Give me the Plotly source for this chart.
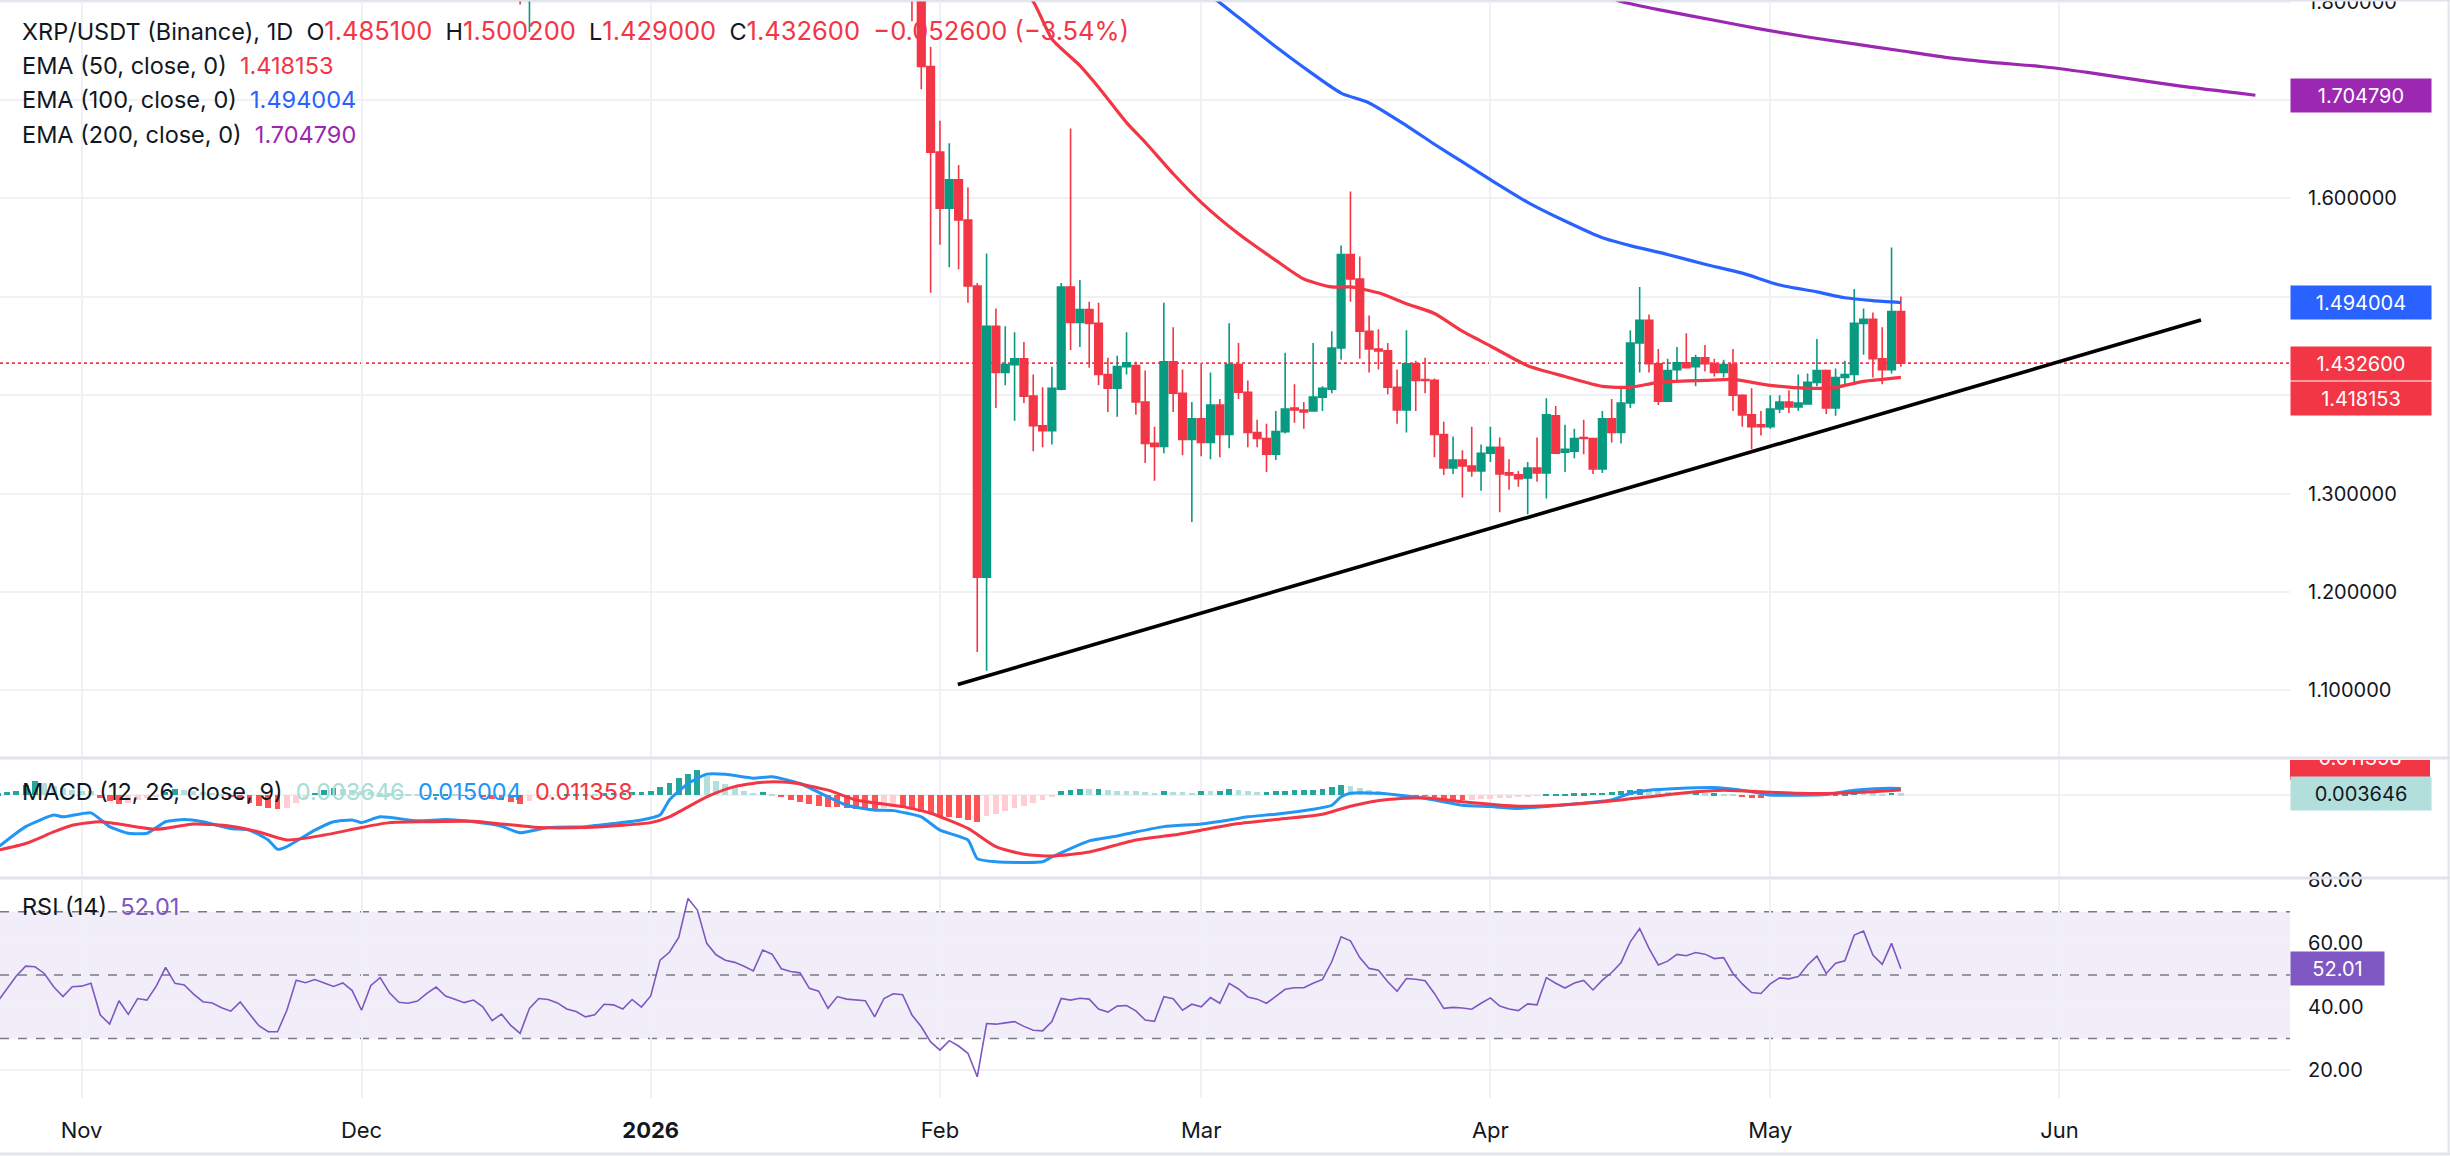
import pandas as pd
import plotly.graph_objects as go

# ---------------- DATA ----------------
# Early candles that only poke into view with their lows
early_dates = ["2025-12-18", "2025-12-19"]
early_open = [1.87, 1.82]
early_high = [1.93, 1.93]
early_low = [1.797, 1.769]
early_close = [1.83, 1.90]

candle_start = "2026-01-29"  # daily candles from here to 2026-05-15
opens = [1.88, 1.83, 1.734,
         1.647, 1.590, 1.619, 1.578, 1.511, 1.215, 1.470, 1.423, 1.431, 1.437,
         1.399, 1.369, 1.364, 1.406, 1.510, 1.474, 1.487, 1.473, 1.421, 1.407,
         1.429, 1.430, 1.393, 1.351, 1.348, 1.434, 1.402, 1.355,
         1.376, 1.352, 1.390, 1.360, 1.431, 1.403, 1.362, 1.356, 1.340, 1.363,
         1.387, 1.385, 1.384, 1.398, 1.406, 1.448, 1.543, 1.518, 1.465, 1.447,
         1.445, 1.408, 1.385, 1.432, 1.416, 1.415, 1.360, 1.326, 1.334, 1.328, 1.323,
         1.341, 1.347, 1.321, 1.319, 1.316, 1.326, 1.321, 1.379, 1.342, 1.343,
         1.357, 1.356, 1.325, 1.376, 1.362, 1.392, 1.453, 1.476, 1.432, 1.394,
         1.426, 1.433, 1.429, 1.438, 1.432, 1.423, 1.431, 1.400, 1.380, 1.370,
         1.368, 1.386, 1.393, 1.388, 1.391, 1.413, 1.425, 1.387, 1.418, 1.421,
         1.473, 1.477, 1.437, 1.426, 1.4851]
highs = [1.92, 1.845, 1.754,
         1.679, 1.656, 1.634, 1.611, 1.514, 1.544, 1.488, 1.470, 1.464, 1.454,
         1.421, 1.408, 1.429, 1.514, 1.671, 1.517, 1.495, 1.494, 1.438, 1.440,
         1.464, 1.434, 1.425, 1.368, 1.494, 1.469, 1.426, 1.393,
         1.433, 1.423, 1.396, 1.473, 1.453, 1.415, 1.375, 1.371, 1.384, 1.443,
         1.411, 1.393, 1.453, 1.409, 1.465, 1.552, 1.607, 1.541, 1.481, 1.467,
         1.453, 1.426, 1.466, 1.435, 1.438, 1.417, 1.373, 1.358, 1.344, 1.368, 1.350,
         1.368, 1.357, 1.335, 1.323, 1.332, 1.357, 1.397, 1.389, 1.370, 1.366,
         1.375, 1.356, 1.384, 1.396, 1.409, 1.466, 1.510, 1.482, 1.447, 1.437,
         1.449, 1.463, 1.441, 1.451, 1.437, 1.436, 1.447, 1.401, 1.407, 1.384,
         1.400, 1.400, 1.405, 1.421, 1.422, 1.457, 1.426, 1.427, 1.435, 1.508,
         1.488, 1.484, 1.469, 1.550, 1.5002]
lows = [1.78, 1.711, 1.504,
        1.553, 1.530, 1.528, 1.494, 1.139, 1.120, 1.387, 1.410, 1.374, 1.392,
        1.343, 1.347, 1.350, 1.405, 1.446, 1.449, 1.428, 1.410, 1.383, 1.378,
        1.421, 1.380, 1.331, 1.313, 1.341, 1.383, 1.339, 1.271,
        1.338, 1.335, 1.337, 1.346, 1.396, 1.347, 1.347, 1.322, 1.334, 1.361,
        1.372, 1.366, 1.384, 1.384, 1.402, 1.436, 1.495, 1.437, 1.423, 1.426,
        1.401, 1.371, 1.362, 1.384, 1.402, 1.337, 1.319, 1.320, 1.296, 1.317, 1.303,
        1.332, 1.281, 1.304, 1.307, 1.279, 1.312, 1.295, 1.340, 1.322, 1.336,
        1.340, 1.320, 1.321, 1.352, 1.351, 1.387, 1.423, 1.423, 1.390, 1.394,
        1.413, 1.427, 1.409, 1.424, 1.419, 1.418, 1.384, 1.368, 1.345, 1.359,
        1.366, 1.382, 1.382, 1.384, 1.391, 1.409, 1.381, 1.379, 1.411, 1.413,
        1.441, 1.418, 1.411, 1.422, 1.429]
closes = [1.83, 1.734, 1.647,
          1.590, 1.619, 1.578, 1.511, 1.215, 1.470, 1.423, 1.431, 1.437, 1.399,
          1.369, 1.364, 1.407, 1.510, 1.474, 1.487, 1.473, 1.421, 1.407, 1.429,
          1.433, 1.393, 1.351, 1.348, 1.434, 1.402, 1.355, 1.376,
          1.352, 1.390, 1.360, 1.431, 1.403, 1.362, 1.356, 1.340, 1.363, 1.386,
          1.385, 1.383, 1.398, 1.407, 1.448, 1.543, 1.518, 1.465, 1.447, 1.445,
          1.408, 1.385, 1.432, 1.415, 1.415, 1.360, 1.326, 1.334, 1.328, 1.323, 1.341,
          1.347, 1.320, 1.319, 1.315, 1.326, 1.321, 1.380, 1.341, 1.345, 1.356,
          1.356, 1.325, 1.376, 1.362, 1.392, 1.453, 1.476, 1.432, 1.394, 1.425,
          1.433, 1.428, 1.438, 1.432, 1.423, 1.431, 1.400, 1.380, 1.368, 1.368,
          1.386, 1.393, 1.388, 1.392, 1.413, 1.425, 1.387, 1.418, 1.421, 1.473,
          1.477, 1.437, 1.426, 1.4851, 1.4326]

ema50_dates = ["2026-02-08", "2026-02-11", "2026-02-13", "2026-02-16", "2026-02-18", "2026-02-21",
               "2026-02-23", "2026-02-26", "2026-03-01", "2026-03-05", "2026-03-09", "2026-03-12",
               "2026-03-15", "2026-03-17", "2026-03-20", "2026-03-23", "2026-03-26", "2026-03-29",
               "2026-04-01", "2026-04-05", "2026-04-09", "2026-04-13", "2026-04-16", "2026-04-19",
               "2026-04-24", "2026-04-27", "2026-05-01", "2026-05-05", "2026-05-08", "2026-05-11",
               "2026-05-13", "2026-05-15"]
ema50_vals = [1.830, 1.800, 1.762, 1.735, 1.713, 1.677, 1.657, 1.625, 1.596, 1.564, 1.537, 1.518,
              1.510, 1.510, 1.504, 1.493, 1.483, 1.465, 1.450, 1.430, 1.419, 1.409, 1.408, 1.413,
              1.415, 1.416, 1.410, 1.407, 1.408, 1.414, 1.416, 1.418153]

ema100_dates = ["2026-02-26", "2026-03-02", "2026-03-05", "2026-03-09", "2026-03-12", "2026-03-16",
                "2026-03-19", "2026-03-23", "2026-03-26", "2026-03-29", "2026-04-01", "2026-04-05",
                "2026-04-09", "2026-04-13", "2026-04-16", "2026-04-20", "2026-04-24", "2026-04-28",
                "2026-05-02", "2026-05-06", "2026-05-09", "2026-05-12", "2026-05-15"]
ema100_vals = [1.830, 1.806, 1.784, 1.754, 1.733, 1.707, 1.697, 1.674, 1.655, 1.637, 1.619, 1.596,
               1.577, 1.560, 1.552, 1.543, 1.533, 1.524, 1.512, 1.505, 1.499, 1.496, 1.494004]

ema200_dates = ["2026-04-13", "2026-04-15", "2026-04-20", "2026-04-25", "2026-04-30", "2026-05-05",
                "2026-05-10", "2026-05-15", "2026-05-20", "2026-05-25", "2026-05-30", "2026-06-04",
                "2026-06-09", "2026-06-14", "2026-06-22"]
ema200_vals = [1.808, 1.800, 1.790, 1.781, 1.772, 1.764, 1.757, 1.750, 1.743, 1.738, 1.734, 1.728,
               1.721, 1.714, 1.70479]

trend_dates = ["2026-02-02 22:00", "2026-06-16 04:00"]
trend_vals = [1.106, 1.4763]

# MACD (12, 26, close, 9)
macd_dates = ["2025-10-23", "2025-10-26", "2025-10-29", "2025-10-30", "2025-11-02", "2025-11-04",
              "2025-11-06", "2025-11-08", "2025-11-10", "2025-11-12", "2025-11-14", "2025-11-17",
              "2025-11-19", "2025-11-21", "2025-11-22", "2025-11-23", "2025-11-26", "2025-11-28",
              "2025-11-30", "2025-12-01", "2025-12-03", "2025-12-07", "2025-12-10", "2025-12-13",
              "2025-12-16", "2025-12-18", "2025-12-21", "2025-12-25", "2025-12-28", "2025-12-31",
              "2026-01-02", "2026-01-03", "2026-01-05", "2026-01-07", "2026-01-09", "2026-01-12",
              "2026-01-14", "2026-01-17", "2026-01-20", "2026-01-22", "2026-01-25", "2026-01-27",
              "2026-01-30", "2026-02-01", "2026-02-04", "2026-02-05", "2026-02-07", "2026-02-12",
              "2026-02-13", "2026-02-17", "2026-02-20", "2026-02-22", "2026-02-25", "2026-03-01",
              "2026-03-04", "2026-03-06", "2026-03-09", "2026-03-13", "2026-03-15", "2026-03-16",
              "2026-03-17", "2026-03-20", "2026-03-23", "2026-03-26", "2026-03-29", "2026-04-01",
              "2026-04-04", "2026-04-07", "2026-04-10", "2026-04-14", "2026-04-16", "2026-04-18",
              "2026-04-21", "2026-04-25", "2026-04-29", "2026-05-01", "2026-05-07", "2026-05-10",
              "2026-05-13", "2026-05-15"]
macd_vals = [-0.118, -0.071, -0.045, -0.049, -0.040, -0.071, -0.086, -0.086, -0.060, -0.055, -0.060,
             -0.075, -0.079, -0.101, -0.122, -0.116, -0.079, -0.060, -0.056, -0.062, -0.049, -0.058,
             -0.055, -0.060, -0.070, -0.085, -0.073, -0.071, -0.064, -0.056, -0.045, -0.011, 0.026,
             0.047, 0.047, 0.038, 0.041, 0.026, -0.004, -0.023, -0.034, -0.035, -0.049, -0.079,
             -0.101, -0.143, -0.150, -0.150, -0.139, -0.103, -0.092, -0.083, -0.071, -0.065, -0.056,
             -0.049, -0.043, -0.032, -0.023, -0.004, 0.004, 0.004, -0.002, -0.011, -0.023, -0.026,
             -0.030, -0.026, -0.020, -0.011, 0.004, 0.011, 0.015, 0.017, 0.0075, 0.000, 0.0015,
             0.011, 0.015, 0.015004]

signal_dates = ["2025-10-23", "2025-10-26", "2025-10-29", "2025-10-31", "2025-11-03", "2025-11-05",
                "2025-11-09", "2025-11-13", "2025-11-17", "2025-11-20", "2025-11-23", "2025-11-27",
                "2025-12-01", "2025-12-04", "2025-12-08", "2025-12-13", "2025-12-16", "2025-12-20",
                "2025-12-25", "2025-12-29", "2026-01-01", "2026-01-03", "2026-01-07", "2026-01-10",
                "2026-01-13", "2026-01-16", "2026-01-20", "2026-01-23", "2026-01-28", "2026-01-31",
                "2026-02-04", "2026-02-07", "2026-02-10", "2026-02-13", "2026-02-17", "2026-02-22",
                "2026-02-26", "2026-03-01", "2026-03-05", "2026-03-09", "2026-03-14", "2026-03-17",
                "2026-03-21", "2026-03-25", "2026-03-29", "2026-04-04", "2026-04-08", "2026-04-15",
                "2026-04-19", "2026-04-23", "2026-04-26", "2026-04-30", "2026-05-04", "2026-05-08",
                "2026-05-12", "2026-05-15"]
signal_vals = [-0.124, -0.109, -0.083, -0.068, -0.060, -0.065, -0.077, -0.065, -0.070, -0.083, -0.101,
               -0.090, -0.073, -0.062, -0.060, -0.059, -0.065, -0.073, -0.073, -0.068, -0.062, -0.049,
               -0.004, 0.019, 0.029, 0.028, 0.011, -0.011, -0.026, -0.041, -0.075, -0.116, -0.133,
               -0.137, -0.128, -0.101, -0.090, -0.079, -0.064, -0.055, -0.043, -0.025, -0.010, -0.006,
               -0.015, -0.025, -0.023, -0.011, -0.0015, 0.0075, 0.011, 0.0075, 0.004, 0.004, 0.0075,
               0.011358]

indicator_start = "2025-10-23"  # daily histogram / RSI values from here to 2026-05-15
hist_milli = [4, 6, 10, 22, 32, 28, 20, 16, 12, 10,
              8, -6, -14, -19, -17, -12, -7, -3, 6, 13,
              12, 9, 6, 5, 3, -4, -12, -18, -24, -29,
              -32, -28, -18, -8, 5, 12, 15, 14, 12, 9,
              6, 5, 4, 3, 2, 1, -1, 1, 2, 1,
              -1, -2, -4, -8, -12, -16, -19, -14, -6, -3,
              -1, 1, 2, 3, 2, 4, 5, 5, 6, 7,
              9, 18, 28, 38, 48, 56, 42, 32, 24, 18,
              10, 5, 6, 3, -4, -10, -16, -20, -24, -26,
              -27, -30, -32, -33, -34, -30, -26, -28, -32, -38,
              -42, -46, -50, -52, -55, -60, -48, -42, -36, -30,
              -24, -18, -12, -5, 8, 12, 14, 13, 13, 12,
              10, 9, 8, 6, 5, 9, 7, 6, 5, 9,
              8, 9, 13, 12, 8, 7, 7, 8, 10, 11,
              11, 12, 14, 17, 22, 20, 15, 11, 8, 5,
              2, 0, -1, -2, -4, -8, -10, -11, -10, -9,
              -8, -7, -6, -5, -4, -2, 2, 3, 3, 4,
              4, 5, 5, 6, 9, 12, 13, 10, 8, 7,
              6, 5, 5, 4, 4, 3, 1, -3, -6, -7,
              -5, -3, -2, -1, 1, 2, 1, 2, 4, 6,
              5, 4, 3, 5, 3.646]

rsi_vals = [41.6, 45.8, 49.7, 52.8, 52.6, 50.5, 46.3, 43.2, 46.3, 46.5,
            47.4, 37.4, 34.5, 41.9, 37.6, 42.6, 42.1, 46.5, 52.4, 47.4,
            46.9, 44.0, 41.6, 41.2, 39.7, 38.6, 41.5, 37.7, 34.0, 32.1,
            32.1, 38.9, 48.4, 47.6, 48.6, 47.5, 46.4, 47.5, 45.1, 38.9,
            46.7, 49.2, 44.4, 41.4, 41.1, 41.8, 44.2, 46.2, 43.4, 42.4,
            41.3, 42.1, 40.0, 35.6, 37.7, 34.1, 31.6, 39.5, 42.6, 42.3,
            41.2, 39.3, 38.5, 36.8, 37.5, 40.8, 40.6, 39.3, 42.3, 39.9,
            43.4, 54.7, 57.2, 61.9, 74.2, 70.5, 60.0, 56.4, 54.7, 54.0,
            52.8, 51.3, 57.9, 56.6, 52.0, 51.1, 50.7, 45.8, 44.9, 39.5,
            43.2, 42.4, 42.1, 41.9, 36.8, 42.6, 44.1, 43.8, 37.4, 33.7,
            28.9, 26.3, 29.3, 27.6, 25.3, 17.9, 34.7, 34.5, 34.9, 35.3,
            33.8, 32.6, 32.4, 35.3, 42.6, 42.1, 42.7, 42.4, 39.3, 38.3,
            40.2, 40.4, 38.7, 35.8, 35.4, 43.2, 42.5, 38.9, 40.8,
            40.0, 42.9, 41.1, 47.4, 45.6, 43.1, 42.4, 41.1, 43.2, 45.5,
            46.0, 46.0, 47.4, 48.6, 54.2, 62.1, 60.8, 55.5, 52.1, 51.5,
            47.9, 44.9, 48.9, 48.7, 48.2, 44.2, 39.5, 39.8, 39.6, 39.2,
            41.1, 42.8, 40.2, 39.3, 38.8, 40.9, 40.6, 49.2, 47.4, 45.9,
            47.5, 48.3, 45.3, 48.4, 50.8, 53.9, 60.5, 64.7, 58.4, 53.2,
            54.4, 56.5, 56.1, 57.1, 56.6, 55.2, 55.5, 50.5, 47.2, 44.5,
            44.2, 47.2, 49.1, 48.8, 49.5, 53.2, 56.0, 50.5, 53.7, 54.5,
            62.6, 63.9, 56.3, 53.4, 60.0, 52.01]

price_ticks = [1.1, 1.2, 1.3, 1.4, 1.5, 1.6, 1.7, 1.8]
# labels hidden behind the value boxes (1.4, 1.5, 1.7) are left blank
price_tick_labels = ["1.100000", "1.200000", "1.300000", "", "", "1.600000", "", "1.800000"]
rsi_ticks = [20, 40, 60, 80]
month_ticks = ["2025-11-01", "2025-12-01", "2026-01-01", "2026-02-01", "2026-03-01",
               "2026-04-01", "2026-05-01", "2026-06-01"]
month_labels = ["Nov", "Dec", "<b>2026</b>", "Feb", "Mar", "Apr", "May", "Jun"]

# ---------------- STYLE ----------------
FONT = "Inter"
TXT = "#131722"
RED = "#f23645"
GREEN = "#089981"
BLUE = "#2962ff"
PURPLE = "#9c27b0"
MACD_BLUE = "#2196f3"
RSI_PURPLE = "#7e57c2"
GRID = "#eff1f5"
SEP = "#e0e3eb"
LEG_SIZE = 23.5
AX_SIZE = 20

W, H = 2450, 1156
BOTTOM = 58
PH = H - BOTTOM
XD = 2290 / W


def py(full_y):
    return 1 - full_y / PH


price_dom = [py(757), 1.0]
macd_dom = [py(876), py(760)]
rsi_dom = [0.0, py(880)]
price_range = [1.0323, 1.8016]
macd_range = [-0.182, 0.0788]
rsi_range = [11.2, 80.0]

candle_dates = early_dates + list(pd.date_range(candle_start, periods=len(opens), freq="D").strftime("%Y-%m-%d"))
ind_dates = list(pd.date_range(indicator_start, periods=len(rsi_vals), freq="D").strftime("%Y-%m-%d"))
hist_vals = [v / 1000 for v in hist_milli]

hist_colors = []
for i, v in enumerate(hist_vals):
    prev = hist_vals[i - 1] if i > 0 else v
    if v >= 0:
        hist_colors.append("#26a69a" if v >= prev else "#b2dfdb")
    else:
        hist_colors.append("#ff5252" if v <= prev else "#ffcdd2")

fig = go.Figure()

fig.add_trace(go.Candlestick(
    x=candle_dates, open=early_open + opens, high=early_high + highs,
    low=early_low + lows, close=early_close + closes,
    increasing=dict(line=dict(color=GREEN, width=1.6), fillcolor=GREEN),
    decreasing=dict(line=dict(color=RED, width=1.6), fillcolor=RED),
    whiskerwidth=0, xaxis="x", yaxis="y", hoverinfo="skip", showlegend=False))

for d, v, c in [(ema50_dates, ema50_vals, RED), (ema100_dates, ema100_vals, BLUE),
                (ema200_dates, ema200_vals, PURPLE)]:
    fig.add_trace(go.Scatter(x=d, y=v, mode="lines", xaxis="x", yaxis="y",
                             line=dict(color=c, width=3.2, shape="spline", smoothing=0.6),
                             hoverinfo="skip", showlegend=False))

fig.add_trace(go.Scatter(x=trend_dates, y=trend_vals, mode="lines", xaxis="x", yaxis="y",
                         line=dict(color="#000000", width=3.6), hoverinfo="skip", showlegend=False))

# MACD pane
fig.add_trace(go.Bar(x=ind_dates, y=hist_vals, marker=dict(color=hist_colors, line=dict(width=0)),
                     width=0.62 * 86400000, xaxis="x", yaxis="y2", hoverinfo="skip", showlegend=False))
fig.add_trace(go.Scatter(x=macd_dates, y=macd_vals, mode="lines", xaxis="x", yaxis="y2",
                         line=dict(color=MACD_BLUE, width=3, shape="spline", smoothing=0.5),
                         hoverinfo="skip", showlegend=False))
fig.add_trace(go.Scatter(x=signal_dates, y=signal_vals, mode="lines", xaxis="x", yaxis="y2",
                         line=dict(color=RED, width=3, shape="spline", smoothing=0.6),
                         hoverinfo="skip", showlegend=False))

# RSI pane
fig.add_trace(go.Scatter(x=ind_dates, y=rsi_vals, mode="lines", xaxis="x", yaxis="y3",
                         line=dict(color=RSI_PURPLE, width=1.6), hoverinfo="skip", showlegend=False))

# Clipped signal label in the MACD price-scale area
fig.add_trace(go.Scatter(x=[0.4375], y=[macd_range[1]], mode="text", text=["0.011358"],
                         textfont=dict(color="white", size=AX_SIZE, family=FONT), textposition="middle center",
                         cliponaxis=True, xaxis="x4", yaxis="y4", hoverinfo="skip", showlegend=False))

shapes = []
shapes.append(dict(type="line", xref="paper", yref="y", x0=0, x1=XD, y0=closes[-1], y1=closes[-1],
                   line=dict(color=RED, width=1.6, dash="dot"), layer="below"))
shapes.append(dict(type="rect", xref="paper", yref="y3", x0=0, x1=XD, y0=30, y1=70,
                   fillcolor="rgba(126,87,194,0.10)", line=dict(width=0), layer="below"))
for lv in [30, 50, 70]:
    shapes.append(dict(type="line", xref="paper", yref="y3", x0=0, x1=XD, y0=lv, y1=lv,
                       line=dict(color="#787b86", width=1.6, dash="dash"), layer="below"))
shapes.append(dict(type="rect", xref="x4", yref="y4", x0=0, x1=0.875, ysizemode="pixel",
                   yanchor=macd_range[1], y0=-20, y1=14, fillcolor=RED, line=dict(width=0), layer="below"))
for fy in [1.0, py(758), py(878)]:
    shapes.append(dict(type="line", xref="paper", yref="paper", x0=0, x1=1, y0=fy, y1=fy,
                       line=dict(color=SEP, width=3)))
shapes.append(dict(type="line", xref="paper", yref="paper", x0=0, x1=1, y0=py(1154), y1=py(1154),
                   line=dict(color=SEP, width=3)))
shapes.append(dict(type="line", xref="paper", yref="paper", x0=0.9994, x1=0.9994, y0=py(1154), y1=1,
                   line=dict(color=SEP, width=2)))

annotations = []
SP = "&nbsp;&nbsp;"


def col(t, c, size=None):
    st = f"color:{c}" + (f";font-size:{size}px" if size else "")
    return f"<span style='{st}'>{t}</span>"


HV = 25.5  # header value size
header = ("XRP/USDT (Binance), 1D" + SP + "O" + col("1.485100", RED, HV) + SP + "H" + col("1.500200", RED, HV)
          + SP + "L" + col("1.429000", RED, HV) + SP + "C" + col("1.432600", RED, HV) + SP
          + col("−0.052600 (−3.54%)", RED, HV))
legend_rows = [
    (31, header, 23.5),
    (66, "EMA (50, close, 0)" + SP + col("1.418153", RED), LEG_SIZE),
    (100, "EMA (100, close, 0)" + SP + col("1.494004", BLUE), LEG_SIZE),
    (134, "EMA (200, close, 0)" + SP + col("1.704790", PURPLE), LEG_SIZE),
    (791, "MACD (12, 26, close, 9)" + SP + col("0.003646", "#a6ded5") + SP + col("0.015004", MACD_BLUE)
     + SP + col("0.011358", RED), LEG_SIZE),
    (906, "RSI (14)" + SP + col("52.01", RSI_PURPLE), LEG_SIZE),
]
for fy, txt, fs in legend_rows:
    annotations.append(dict(xref="paper", yref="paper", x=20 / W, y=py(fy), xanchor="left", yanchor="middle",
                            text=txt, showarrow=False, font=dict(family=FONT, size=fs, color=TXT)))

boxes = [
    ("y", ema200_vals[-1], "1.704790", PURPLE, "white", 0, 136),
    ("y", ema100_vals[-1], "1.494004", BLUE, "white", 0, 136),
    ("y", closes[-1], "1.432600", RED, "white", 0, 136),
    ("y", ema50_vals[-1], "1.418153", RED, "white", -21, 136),
    ("y2", hist_vals[-1], "0.003646", "#b2dfdb", TXT, 0, 136),
    ("y3", rsi_vals[-1], "52.01", RSI_PURPLE, "white", 0, 89),
]
for yref, yv, txt, bg, fg, ys, wd in boxes:
    annotations.append(dict(xref="paper", yref=yref, x=XD, y=yv, xanchor="left", yanchor="middle",
                            yshift=ys, text=txt, showarrow=False, bgcolor=bg, borderpad=2,
                            width=wd, height=29, align="center",
                            font=dict(family=FONT, size=AX_SIZE, color=fg)))

fig.update_layout(
    width=W, height=H, margin=dict(l=0, r=0, t=0, b=BOTTOM, autoexpand=False),
    paper_bgcolor="white", plot_bgcolor="white", showlegend=False,
    boxgap=0.1, boxgroupgap=0.1, bargap=0,
    font=dict(family=FONT, color=TXT, size=AX_SIZE),
    shapes=shapes, annotations=annotations,
    xaxis=dict(domain=[0, XD], anchor="y3", type="date", automargin=False,
               range=["2025-10-23 06:00", "2026-06-25 17:00"],
               tickvals=month_ticks, ticktext=month_labels, showgrid=True, gridcolor=GRID, gridwidth=1.5,
               zeroline=False, showline=False, ticks="", ticklabelstandoff=17,
               tickfont=dict(size=22, family=FONT, color=TXT), rangeslider=dict(visible=False)),
    yaxis=dict(domain=price_dom, anchor="x", side="right", range=price_range, tickvals=price_ticks,
               ticktext=price_tick_labels, automargin=False, ticklabeloverflow="allow",
               showgrid=True, gridcolor=GRID, gridwidth=1.5, zeroline=False,
               ticks="", ticklabelstandoff=17, tickfont=dict(size=AX_SIZE, family=FONT, color=TXT)),
    yaxis2=dict(domain=macd_dom, anchor="x", side="right", range=macd_range, tickvals=[0], automargin=False,
                showticklabels=False, showgrid=True, gridcolor=GRID, gridwidth=1.5, zeroline=False, ticks=""),
    yaxis3=dict(domain=rsi_dom, anchor="x", side="right", range=rsi_range, tickvals=rsi_ticks,
                tickformat=".2f", showgrid=True, gridcolor=GRID, gridwidth=1.5, zeroline=False,
                automargin=False, ticklabeloverflow="allow", ticks="", ticklabelstandoff=17,
                tickfont=dict(size=AX_SIZE, family=FONT, color=TXT)),
    xaxis4=dict(domain=[XD, 1], anchor="y4", range=[0, 1], visible=False, fixedrange=True, automargin=False),
    yaxis4=dict(domain=macd_dom, anchor="x4", range=macd_range, visible=False, fixedrange=True,
                automargin=False),
)

fig.write_html("out.html")
